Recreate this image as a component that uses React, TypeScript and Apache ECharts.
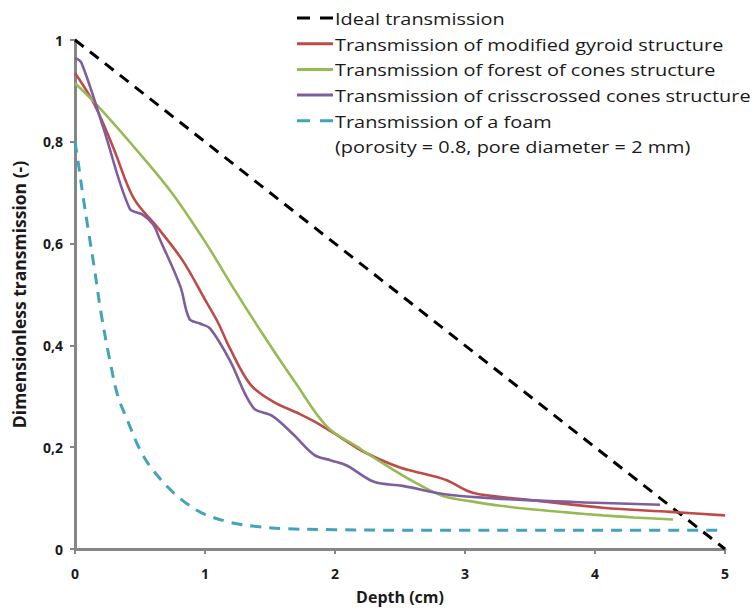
import React, { useEffect, useRef } from "react";
import * as echarts from "echarts";

const idealX = [0, 5];
const idealY = [1, 0];

const gyroidX = [0, 0.15, 0.3, 0.45, 0.65, 0.83, 1.0, 1.1, 1.19, 1.35, 1.52, 1.73, 1.88, 2.05, 2.22, 2.5, 2.73, 2.86, 3.02, 3.12, 3.55, 4.06, 4.58, 5.0];
const gyroidY = [0.935, 0.873, 0.785, 0.69, 0.627, 0.566, 0.49, 0.445, 0.395, 0.323, 0.29, 0.265, 0.245, 0.218, 0.191, 0.16, 0.145, 0.135, 0.114, 0.107, 0.095, 0.081, 0.073, 0.066];

const conesX = [0, 0.17, 0.5, 0.75, 1.01, 1.22, 1.45, 1.7, 1.94, 2.17, 2.37, 2.6, 2.83, 3.04, 3.27, 3.55, 3.78, 4.06, 4.3, 4.6];
const conesY = [0.915, 0.872, 0.776, 0.698, 0.6, 0.512, 0.42, 0.325, 0.24, 0.201, 0.168, 0.133, 0.104, 0.094, 0.085, 0.077, 0.072, 0.066, 0.062, 0.058];

const crissX = [0, 0.05, 0.22, 0.42, 0.52, 0.6, 0.65, 0.81, 0.88, 0.96, 1.04, 1.19, 1.37, 1.52, 1.68, 1.84, 1.97, 2.09, 2.3, 2.52, 2.86, 3.2, 3.55, 4.0, 4.5];
const crissY = [0.965, 0.955, 0.826, 0.669, 0.657, 0.638, 0.61, 0.516, 0.452, 0.443, 0.433, 0.371, 0.278, 0.261, 0.225, 0.185, 0.174, 0.164, 0.132, 0.124, 0.107, 0.1, 0.095, 0.091, 0.087];

const foamX = [0, 0.03, 0.06, 0.1, 0.15, 0.2, 0.27, 0.33, 0.4, 0.5, 0.6, 0.76, 0.9, 1.0, 1.2, 1.4, 1.6, 2.0, 2.5, 3, 4, 5];
const foamY = [0.8, 0.75, 0.696, 0.63, 0.55, 0.464, 0.368, 0.3, 0.255, 0.195, 0.155, 0.11, 0.082, 0.068, 0.052, 0.044, 0.04, 0.038, 0.037, 0.037, 0.037, 0.037];

const seriesNames = [
  "Ideal transmission",
  "Transmission of modified gyroid structure",
  "Transmission of forest of cones structure",
  "Transmission of crisscrossed cones structure",
  "Transmission of a foam",
];
const foamNote = "(porosity = 0.8, pore diameter = 2 mm)";
const seriesColors = ["#000000", "#be4b48", "#98b954", "#7d5fa0", "#43a3bb"];
const seriesDashed = [true, false, false, false, true];

const xTicks = [0, 1, 2, 3, 4, 5];

const zip = (xs: number[], ys: number[]) => xs.map((x, i) => [x, ys[i]]);

export default function App() {
  const ref = useRef<HTMLDivElement>(null);
  useEffect(() => {
    if (!ref.current) return;
    const chart = echarts.init(ref.current, null, { renderer: "svg" });
    const font = "'Open Sans', 'Liberation Sans', sans-serif";
    const axisColor = "#868686";
    const textColor = "#1a1a1a";
    const mk = (i: number, xs: number[], ys: number[], smooth: number | boolean) => ({
      name: seriesNames[i],
      type: "line",
      data: zip(xs, ys),
      showSymbol: false,
      symbol: "none",
      smooth,
      lineStyle: { color: seriesColors[i], width: seriesDashed[i] ? 3 : 2.6, type: seriesDashed[i] ? [11, 8] : "solid", cap: "butt" },
      itemStyle: { color: seriesColors[i] },
      z: 3,
    });

    const legendTop = 18;
    const legendStep = 25.7;
    const legendGraphics: any[] = [];
    seriesNames.forEach((name, i) => {
      const y = legendTop + i * legendStep;
      legendGraphics.push({
        type: "line",
        shape: { x1: 297, y1: y, x2: 333, y2: y },
        style: {
          stroke: seriesColors[i],
          lineWidth: 3,
          lineDash: seriesDashed[i] ? [13, 10] : null,
        },
        silent: true,
      });
      legendGraphics.push({
        type: "text",
        x: 335,
        y,
        scaleX: 1.17,
        style: { text: name, x: 0, y: 0, verticalAlign: "middle", align: "left", fontFamily: font, fontSize: 17, fill: textColor },
        silent: true,
      });
    });
    legendGraphics.push({
      type: "text",
      x: 335,
      y: legendTop + 5 * legendStep,
      scaleX: 1.17,
      style: { text: foamNote, x: 0, y: 0, verticalAlign: "middle", align: "left", fontFamily: font, fontSize: 17, fill: textColor },
      silent: true,
    });

    chart.setOption({
      animation: false,
      backgroundColor: "#ffffff",
      textStyle: { fontFamily: font },
      grid: { left: 75, right: 28, top: 40, bottom: 53, containLabel: false },
      xAxis: {
        type: "value",
        min: 0,
        max: 5,
        interval: 1,
        name: "Depth (cm)",
        nameLocation: "middle",
        nameGap: 40,
        nameTextStyle: { fontFamily: font, fontSize: 16, fontWeight: "bold", color: textColor },
        axisLine: { show: true, onZero: false, lineStyle: { color: axisColor, width: 3 } },
        axisTick: { show: true, length: 5, lineStyle: { color: axisColor, width: 2 } },
        axisLabel: { fontFamily: font, fontSize: 14, fontWeight: "bold", color: textColor, margin: 17, formatter: (v: number) => (xTicks.includes(v) ? String(v) : "") },
        splitLine: { show: false },
      },
      yAxis: {
        type: "value",
        min: 0,
        max: 1,
        interval: 0.2,
        name: "Dimensionless transmission (-)",
        nameLocation: "middle",
        nameGap: 47,
        nameTextStyle: { fontFamily: font, fontSize: 17.5, fontWeight: "bold", color: textColor },
        axisLine: { show: true, lineStyle: { color: axisColor, width: 3 } },
        axisTick: { show: true, length: 5, lineStyle: { color: axisColor, width: 2 } },
        axisLabel: {
          fontFamily: font,
          fontSize: 14,
          fontWeight: "bold",
          color: textColor,
          margin: 12,
          formatter: (v: number) => String(Math.round(v * 10) / 10).replace(".", ","),
        },
        splitLine: { show: false },
      },
      graphic: legendGraphics,
      series: [
        mk(0, idealX, idealY, false),
        mk(1, gyroidX, gyroidY, 0.35),
        mk(2, conesX, conesY, 0.35),
        mk(3, crissX, crissY, 0.35),
        mk(4, foamX, foamY, 0.35),
      ],
    });
    return () => chart.dispose();
  }, []);
  return <div ref={ref} style={{ position: "fixed", left: 0, top: 0, width: 753, height: 610, background: "#fff" }} />;
}
